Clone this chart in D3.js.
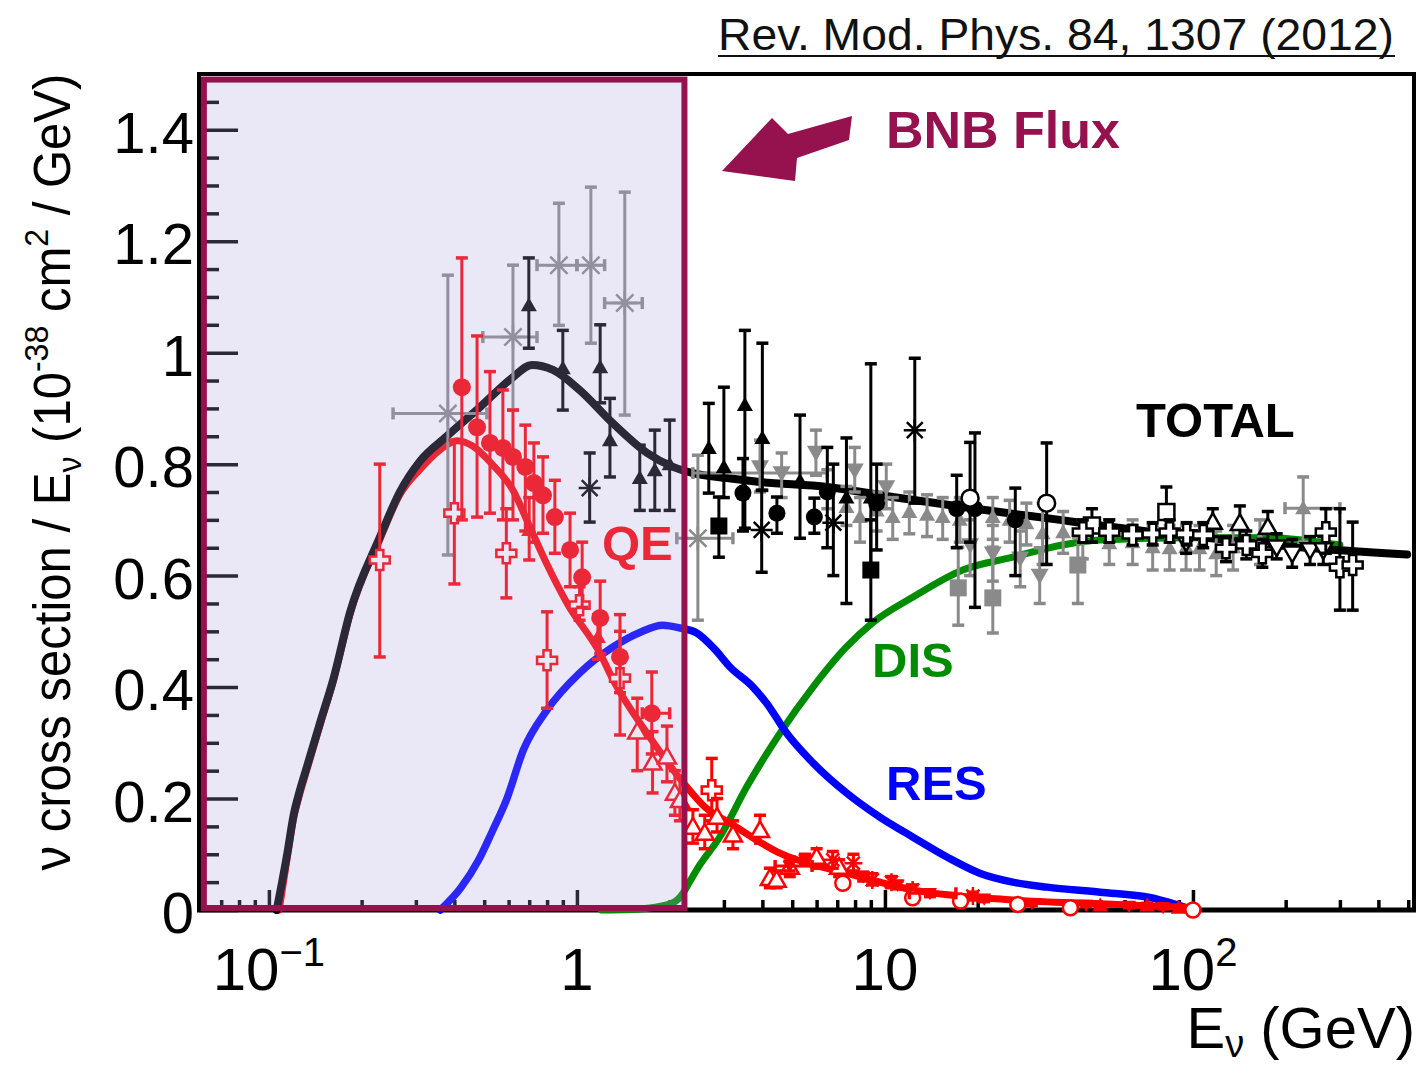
<!DOCTYPE html>
<html>
<head>
<meta charset="utf-8">
<script src="https://cdn.jsdelivr.net/npm/d3@7"></script>
<style>
body { margin: 0; background: #fff; }
#chart { width: 1421px; height: 1067px; }
text { font-family: "Liberation Sans", Arial, Helvetica, sans-serif; }
</style>
</head>
<body>
<div id="chart"></div>
<script>

/* MODEL CURVES (E in GeV, sigma/E in 1e-38 cm2/GeV) */
var totalE = [0.106, 0.1148, 0.1203, 0.1248, 0.1334, 0.1468, 0.1617, 0.1836, 0.2293, 0.2661, 0.309, 0.378, 0.484, 0.62, 0.714, 0.836, 1.02, 1.31, 1.69, 2.05, 2.38, 3.07, 3.93, 6.5, 10.6, 17.5, 23.6, 37, 50, 105, 222, 496];
var totalV = [0, 0.102, 0.17, 0.206, 0.26, 0.337, 0.413, 0.535, 0.669, 0.75, 0.805, 0.85, 0.902, 0.956, 0.978, 0.969, 0.933, 0.873, 0.82, 0.795, 0.784, 0.775, 0.768, 0.759, 0.741, 0.724, 0.714, 0.70, 0.69, 0.669, 0.651, 0.638];

var qeE = [0.108, 0.1148, 0.1203, 0.1248, 0.1334, 0.1468, 0.1617, 0.1836, 0.2293, 0.2661, 0.309, 0.36, 0.408, 0.46, 0.53, 0.62, 0.70, 0.80, 0.93, 1.19, 1.31, 1.69, 2.24, 2.6, 3.14, 4.56, 7.5, 12.3, 26, 50, 100];
var qeV = [0, 0.095, 0.165, 0.2, 0.255, 0.333, 0.41, 0.532, 0.665, 0.745, 0.79, 0.826, 0.842, 0.832, 0.80, 0.753, 0.69, 0.62, 0.55, 0.46, 0.413, 0.317, 0.225, 0.185, 0.156, 0.102, 0.066, 0.036, 0.018, 0.011, 0.004];

var resE = [0.36, 0.42, 0.48, 0.53, 0.59, 0.67, 0.80, 1.02, 1.31, 1.6, 1.9, 2.16, 2.45, 2.8, 3.14, 3.73, 4.13, 4.8, 5.84, 7.5, 9.6, 12.3, 15.9, 20.3, 26, 33.6, 50, 73, 100];
var resV = [0, 0.04, 0.09, 0.14, 0.197, 0.287, 0.359, 0.425, 0.472, 0.498, 0.511, 0.506, 0.497, 0.468, 0.436, 0.40, 0.371, 0.317, 0.264, 0.21, 0.167, 0.131, 0.095, 0.066, 0.05, 0.041, 0.032, 0.022, 0];

var disE = [1.2, 1.5, 1.75, 2.05, 2.21, 2.27, 2.5, 2.91, 3.56, 4.56, 5.84, 7.5, 9.1, 12.3, 17.9, 26, 37.7, 50, 100, 175, 300];
var disV = [0, 0.001, 0.004, 0.013, 0.03, 0.041, 0.08, 0.131, 0.221, 0.317, 0.40, 0.472, 0.515, 0.561, 0.61, 0.633, 0.655, 0.664, 0.668, 0.668, 0.655];

/* MEASUREMENTS: [E, value, barLow, barHigh, (xLow, xHigh)] */
var redCircles = [
    [0.423, 0.938, 0.70, 1.17], [0.474, 0.866, 0.705, 1.03], [0.522, 0.838, 0.712, 0.966],
    [0.575, 0.829, 0.70, 0.933], [0.62, 0.813, 0.70, 0.897], [0.68, 0.795, 0.68, 0.87],
    [0.725, 0.766, 0.66, 0.838], [0.776, 0.744, 0.676, 0.813], [0.848, 0.705, 0.64, 0.771],
    [0.95, 0.646, 0.58, 0.712], [1.04, 0.597, 0.543, 0.66], [1.19, 0.524, 0.46, 0.59],
    [1.38, 0.454, 0.39, 0.53], [1.75, 0.353, 0.28, 0.427, 1.63, 2.0]
];
var redOpenCrosses = [
    [0.229, 0.628, 0.454, 0.80], [0.40, 0.712, 0.585, 0.843], [0.59, 0.64, 0.56, 0.72],
    [0.80, 0.448, 0.362, 0.535], [1.02, 0.547, 0.52, 0.58], [1.38, 0.416, 0.314, 0.50],
    [2.74, 0.215, 0.16, 0.272]
];
var redOpenTriangles = [
    [1.57, 0.32, 0.25, 0.38], [1.76, 0.264, 0.21, 0.32], [1.96, 0.275, 0.23, 0.33],
    [2.08, 0.21, 0.17, 0.25], [2.16, 0.197, 0.16, 0.24], [2.38, 0.149, 0.12, 0.18],
    [2.6, 0.138, 0.11, 0.17], [2.85, 0.167, 0.14, 0.20], [3.21, 0.135, 0.11, 0.16],
    [3.93, 0.143, 0.12, 0.17], [4.23, 0.057, 0.04, 0.075], [4.45, 0.054, 0.04, 0.07],
    [4.91, 0.077, 0.06, 0.095], [6.0, 0.095, 0.075, 0.11], [7.1, 0.077, 0.06, 0.09]
];
var redTriangles = [
    [0.70, 0.682, 0.628, 0.74], [1.17, 0.49, 0.45, 0.53], [50, 0.008, 0.003, 0.013],
    [71, 0.008, 0.004, 0.012], [90, 0.004, 0.001, 0.008]
];
var redStars = [
    [6.77, 0.09, 0.075, 0.105], [7.9, 0.084, 0.07, 0.10], [9.1, 0.054, 0.045, 0.065],
    [10.5, 0.05, 0.04, 0.06], [12.3, 0.036, 0.028, 0.045], [19.3, 0.025, 0.018, 0.032]
];
var redOpenCircles = [
    [7.3, 0.048, 0.04, 0.056], [12.3, 0.022, 0.016, 0.028], [17.6, 0.016, 0.01, 0.022],
    [27, 0.01, 0.005, 0.015], [40, 0.004, 0.001, 0.008], [100, 0.0, 0.0, 0.003]
];
var redDownTriangles = [
    [4.9, 0.079, 0.07, 0.088, 4.4, 5.8], [5.5, 0.09, 0.08, 0.10], [8.5, 0.06, 0.052, 0.068],
    [11, 0.045, 0.038, 0.052], [14, 0.03, 0.024, 0.036, 12, 17], [21, 0.02, 0.015, 0.025],
    [30, 0.012, 0.008, 0.016], [45, 0.009, 0.006, 0.012], [62, 0.007, 0.004, 0.01],
    [80, 0.005, 0.002, 0.008]
];

var blackTriangles = [
    [0.698, 1.085, 1.008, 1.17], [0.90, 0.972, 0.897, 1.04], [1.19, 0.974, 0.91, 1.05],
    [1.28, 0.843, 0.777, 0.918], [1.6, 0.775, 0.717, 0.834], [1.79, 0.789, 0.717, 0.861],
    [2.0, 0.80, 0.717, 0.879], [2.68, 0.829, 0.748, 0.909], [3.0, 0.795, 0.74, 0.938],
    [3.51, 0.906, 0.685, 1.04], [4.0, 0.847, 0.753, 1.017], [5.3, 0.77, 0.667, 0.888],
    [7.5, 0.74, 0.55, 0.847], [9.0, 0.74, 0.62, 0.98]
];
var blackStars = [[1.1, 0.757, 0.696, 0.82], [3.98, 0.682, 0.606, 0.753], [6.8, 0.695, 0.60, 0.80], [12.5, 0.861, 0.73, 0.99]];
var blackCircles = [
    [3.46, 0.748, 0.68, 0.81], [4.46, 0.712, 0.676, 0.741], [5.9, 0.705, 0.676, 0.739],
    [6.5, 0.75, 0.65, 0.83], [9.4, 0.73, 0.646, 0.80], [17.1, 0.72, 0.65, 0.78],
    [19.6, 0.72, 0.543, 0.856], [26.5, 0.70, 0.60, 0.757]
];
var blackSquares = [[2.89, 0.689, 0.633, 0.741], [9.0, 0.61, 0.52, 0.70]];
var blackOpenCircles = [[18.9, 0.739, 0.66, 0.839], [33.5, 0.73, 0.62, 0.838]];
var blackOpenSquares = [[47, 0.69, 0.66, 0.72], [82, 0.714, 0.68, 0.759]];
var blackOpenTriangles = [[116, 0.696, 0.67, 0.72], [142, 0.694, 0.665, 0.725], [175, 0.687, 0.66, 0.715]];
var blackOpenDownTriangles = [[95, 0.66, 0.64, 0.68], [187, 0.651, 0.63, 0.675], [210, 0.64, 0.615, 0.665], [240, 0.646, 0.62, 0.67], [265, 0.646, 0.62, 0.67]];
var blackOpenCrosses = [
    [43.9, 0.678, 0.66, 0.70], [53.5, 0.678, 0.66, 0.70], [63.7, 0.673, 0.655, 0.69],
    [74, 0.675, 0.655, 0.695], [84, 0.678, 0.66, 0.70], [95.4, 0.675, 0.655, 0.695],
    [108, 0.673, 0.65, 0.695], [128, 0.649, 0.625, 0.67], [149, 0.655, 0.63, 0.68],
    [168, 0.64, 0.615, 0.665], [270, 0.678, 0.64, 0.72], [300, 0.615, 0.538, 0.72],
    [330, 0.619, 0.538, 0.696]
];

var grayStars = [
    [0.381, 0.891, 0.637, 1.139, 0.253, 0.51], [0.62, 1.028, 0.897, 1.157, 0.495, 0.742],
    [0.874, 1.157, 1.049, 1.268, 0.742, 1.0], [1.11, 1.157, 1.017, 1.297, 1.0, 1.23],
    [1.43, 1.089, 0.888, 1.288, 1.23, 1.63], [2.47, 0.667, 0.52, 0.816, 2.11, 3.21]
];
var grayDownTriangles = [
    [3.93, 0.795, 0.75, 0.843], [4.62, 0.784, 0.74, 0.82, 2.38, 6.5], [5.97, 0.821, 0.78, 0.861],
    [7.98, 0.789, 0.75, 0.83], [10.1, 0.759, 0.72, 0.80], [18.9, 0.655, 0.60, 0.70],
    [22.4, 0.64, 0.59, 0.69], [27.5, 0.631, 0.58, 0.68], [31.8, 0.60, 0.55, 0.65]
];
var grayTriangles = [
    [6.5, 0.757, 0.72, 0.79], [7.5, 0.723, 0.69, 0.76], [8.3, 0.705, 0.66, 0.74],
    [9.4, 0.717, 0.68, 0.75], [10.6, 0.705, 0.665, 0.74], [12, 0.714, 0.675, 0.75],
    [13.7, 0.709, 0.67, 0.745], [15.4, 0.705, 0.665, 0.74], [17.5, 0.70, 0.66, 0.74],
    [22.4, 0.705, 0.665, 0.74], [25.4, 0.70, 0.66, 0.735], [28.8, 0.694, 0.655, 0.73],
    [32.5, 0.676, 0.62, 0.73], [37.9, 0.678, 0.64, 0.715], [43.9, 0.667, 0.63, 0.70],
    [53.5, 0.658, 0.62, 0.70], [63.7, 0.66, 0.62, 0.70], [74, 0.651, 0.61, 0.69],
    [84, 0.649, 0.61, 0.69], [95, 0.651, 0.61, 0.69], [105, 0.649, 0.61, 0.69],
    [119, 0.64, 0.60, 0.68], [135, 0.651, 0.61, 0.69], [165, 0.664, 0.62, 0.70],
    [228, 0.721, 0.66, 0.777, 199, 300]
];
var graySquares = [[17.3, 0.578, 0.511, 0.651], [22.4, 0.56, 0.497, 0.651], [42.3, 0.619, 0.55, 0.669]];

/* AXIS TICKS */
var xMajorTicks = [0.1, 1, 10, 100];
var xMinorTicks = [0.07, 0.08, 0.09, 0.2, 0.3, 0.4, 0.5, 0.6, 0.7, 0.8, 0.9, 2, 3, 4, 5, 6, 7, 8, 9,
    20, 30, 40, 50, 60, 70, 80, 90, 200, 300, 400, 500];
var yMajorTicks = [0, 0.2, 0.4, 0.6, 0.8, 1, 1.2, 1.4];
var yMinorTicks = [0.05, 0.1, 0.15, 0.25, 0.3, 0.35, 0.45, 0.5, 0.55, 0.65, 0.7, 0.75, 0.85, 0.9, 0.95,
    1.05, 1.1, 1.15, 1.25, 1.3, 1.35, 1.45];
var yTickLabels = ["0", "0.2", "0.4", "0.6", "0.8", "1", "1.2", "1.4"];

/* COLOURS */
var RED = "#ff0000", BLUE = "#0000ff", GREEN = "#008c00", GRAY = "#8a8a8a", MAROON = "#95124f";

/* SVG AND SCALES */
var width = 1421, height = 1067;
var svg = d3.select("#chart").append("svg")
    .attr("width", width)
    .attr("height", height);

var x = d3.scaleLog().domain([0.0593, 522]).range([199, 1414]);
var y = d3.scaleLinear().domain([0, 1.5]).range([910, 74]);

/* TICKS (drawn inward like ROOT) */
function tickGroup(axis, tx, ty) {
    var g = svg.append("g").attr("transform", "translate(" + tx + "," + ty + ")").call(axis);
    g.select(".domain").remove();
    g.selectAll("line").attr("stroke", "#000").attr("stroke-width", 3.5);
    return g;
}
tickGroup(d3.axisTop(x).tickValues(xMajorTicks).tickSize(20).tickFormat(""), 0, 910);
tickGroup(d3.axisTop(x).tickValues(xMinorTicks).tickSize(10).tickFormat(""), 0, 910);
tickGroup(d3.axisRight(y).tickValues(yMajorTicks).tickSize(39).tickFormat(""), 199, 0);
tickGroup(d3.axisRight(y).tickValues(yMinorTicks).tickSize(20).tickFormat(""), 199, 0);

/* FRAME */
svg.append("rect")
    .attr("x", 199).attr("y", 74)
    .attr("width", 1414 - 199).attr("height", 910 - 74)
    .attr("fill", "none").attr("stroke", "#000").attr("stroke-width", 4);
svg.append("line")
    .attr("x1", 197).attr("x2", 1416).attr("y1", 910).attr("y2", 910)
    .attr("stroke", "#000").attr("stroke-width", 5);

/* CURVES */
function drawCurve(es, vs, color, w) {
    var pts = es.map(function(e, i) { return [x(e), y(vs[i])]; });
    svg.append("path")
        .attr("d", d3.line().curve(d3.curveMonotoneX)(pts))
        .attr("fill", "none")
        .attr("stroke", color)
        .attr("stroke-width", w)
        .attr("stroke-linejoin", "round")
        .attr("stroke-linecap", "round");
}
drawCurve(disE, disV, GREEN, 7);
drawCurve(resE, resV, BLUE, 7.5);
drawCurve(qeE, qeV, RED, 7);
drawCurve(totalE, totalV, "#000", 8);

/* MARKERS */
function markerPath(type, s) {
    if (type === "triUp") return "M0," + (-s) + "L" + s + "," + (0.75 * s) + "L" + (-s) + "," + (0.75 * s) + "Z";
    if (type === "triDown") return "M0," + s + "L" + s + "," + (-0.75 * s) + "L" + (-s) + "," + (-0.75 * s) + "Z";
    if (type === "square") return "M" + (-s) + "," + (-s) + "H" + s + "V" + s + "H" + (-s) + "Z";
    if (type === "cross") {
        var a = s * 0.36;
        return "M" + (-a) + "," + (-s) + "H" + a + "V" + (-a) + "H" + s + "V" + a + "H" + a + "V" + s +
            "H" + (-a) + "V" + a + "H" + (-s) + "V" + (-a) + "H" + (-a) + "Z";
    }
    if (type === "star") {
        var d = s * 0.72;
        return "M" + (-s) + ",0H" + s + "M0," + (-s) + "V" + s +
            "M" + (-d) + "," + (-d) + "L" + d + "," + d + "M" + (-d) + "," + d + "L" + d + "," + (-d);
    }
    return d3.symbol().type(d3.symbolCircle).size(Math.PI * s * s)();
}

function drawSet(rows, color, type, size, open) {
    var g = svg.append("g");
    rows.forEach(function(r) {
        var cx = x(r[0]), cy = y(r[1]);
        g.append("line")
            .attr("x1", cx).attr("x2", cx).attr("y1", y(r[2])).attr("y2", y(r[3]))
            .attr("stroke", color).attr("stroke-width", 3);
        [r[2], r[3]].forEach(function(v) {
            g.append("line")
                .attr("x1", cx - 6).attr("x2", cx + 6).attr("y1", y(v)).attr("y2", y(v))
                .attr("stroke", color).attr("stroke-width", 3.5);
        });
        if (r.length > 4) {
            g.append("line")
                .attr("x1", x(r[4])).attr("x2", x(r[5])).attr("y1", cy).attr("y2", cy)
                .attr("stroke", color).attr("stroke-width", 3);
            [r[4], r[5]].forEach(function(e) {
                g.append("line")
                    .attr("x1", x(e)).attr("x2", x(e)).attr("y1", cy - 6).attr("y2", cy + 6)
                    .attr("stroke", color).attr("stroke-width", 3.5);
            });
        }
        var m = g.append("path")
            .attr("d", markerPath(type, size))
            .attr("transform", "translate(" + cx + "," + cy + ")");
        if (type === "star") {
            m.attr("fill", "none").attr("stroke", color).attr("stroke-width", 2.5);
        } else if (open) {
            m.attr("fill", "#fff").attr("stroke", color).attr("stroke-width", 2.5);
        } else {
            m.attr("fill", color);
        }
    });
}

drawSet(grayStars, GRAY, "star", 12, false);
drawSet(grayDownTriangles, GRAY, "triDown", 9, false);
drawSet(grayTriangles, GRAY, "triUp", 8, false);
drawSet(graySquares, GRAY, "square", 8.5, false);

drawSet(blackTriangles, "#000", "triUp", 8, false);
drawSet(blackStars, "#000", "star", 11, false);
drawSet(blackCircles, "#000", "circle", 8.5, false);
drawSet(blackSquares, "#000", "square", 8.5, false);
drawSet(blackOpenCircles, "#000", "circle", 8.5, true);
drawSet(blackOpenSquares, "#000", "square", 8, true);
drawSet(blackOpenTriangles, "#000", "triUp", 9, true);
drawSet(blackOpenDownTriangles, "#000", "triDown", 9, true);
drawSet(blackOpenCrosses, "#000", "cross", 10, true);

drawSet(redOpenCrosses, RED, "cross", 10, true);
drawSet(redOpenTriangles, RED, "triUp", 9, true);
drawSet(redTriangles, RED, "triUp", 8, false);
drawSet(redStars, RED, "star", 9, false);
drawSet(redOpenCircles, RED, "circle", 7.5, true);
drawSet(redDownTriangles, RED, "triDown", 7, false);
drawSet(redCircles, RED, "circle", 9, false);

/* CURVE LABELS */
function bold(t, px, py, color) {
    svg.append("text")
        .attr("x", px).attr("y", py)
        .attr("font-size", 49).attr("font-weight", "bold")
        .attr("fill", color).text(t);
}
bold("QE", 602, 560, RED);
bold("DIS", 872, 677, GREEN);
bold("RES", 886, 800, BLUE);
bold("TOTAL", 1136, 437, "#000");

/* BNB FLUX REGION (translucent overlay) */
var bnbE = [0.0615, 2.234];
var bnbV = [0.0036, 1.49];
svg.append("rect")
    .attr("x", x(bnbE[0])).attr("y", y(bnbV[1]))
    .attr("width", x(bnbE[1]) - x(bnbE[0]))
    .attr("height", y(bnbV[0]) - y(bnbV[1]))
    .attr("fill", "rgb(171,159,223)").attr("fill-opacity", 0.25)
    .attr("stroke", MAROON).attr("stroke-width", 6);

/* ARROW + BNB FLUX */
svg.append("path")
    .attr("d", "M852,116 L849,140 L797,158 L795,181 L722,171 L772,118 L788,134 Z")
    .attr("fill", MAROON);
svg.append("text")
    .attr("x", 886).attr("y", 148)
    .attr("font-size", 52).attr("font-weight", "bold")
    .attr("fill", MAROON).text("BNB Flux");

/* TICK LABELS */
svg.selectAll(".ylab")
    .data(yMajorTicks)
    .enter()
    .append("text")
        .attr("class", "ylab")
        .attr("x", 194)
        .attr("y", function(d) { return y(d); })
        .attr("dy", "0.4em")
        .attr("text-anchor", "end")
        .attr("font-size", 58)
        .text(function(d, i) { return yTickLabels[i]; });

var xLabelSpecs = [["10", "\u22121"], ["1", ""], ["10", ""], ["10", "2"]];
xMajorTicks.forEach(function(v, i) {
    var t = svg.append("text")
        .attr("x", x(v)).attr("y", 990)
        .attr("text-anchor", "middle")
        .attr("font-size", 60);
    t.append("tspan").text(xLabelSpecs[i][0]);
    if (xLabelSpecs[i][1]) {
        t.append("tspan").attr("dy", -24).attr("font-size", 40).text(xLabelSpecs[i][1]);
    }
});

/* AXIS TITLES */
var xt = svg.append("text")
    .attr("x", 1415).attr("y", 1048)
    .attr("text-anchor", "end")
    .attr("font-size", 58);
xt.append("tspan").text("E");
xt.append("tspan").attr("dy", 9).attr("font-size", 38).text("\u03bd");
xt.append("tspan").attr("dy", -9).text(" (GeV)");

var yt = svg.append("text")
    .attr("text-anchor", "middle")
    .attr("font-size", 52);
yt.append("tspan").text("\u03bd cross section / E");
yt.append("tspan").attr("dy", 11).attr("font-size", 34).text("\u03bd");
yt.append("tspan").attr("dy", -11).text(" (10");
yt.append("tspan").attr("dy", -22).attr("font-size", 34).text("-38");
yt.append("tspan").attr("dy", 22).text(" cm");
yt.append("tspan").attr("dy", -22).attr("font-size", 34).text("2");
yt.append("tspan").attr("dy", 22).text(" / GeV)");
var ytw = yt.node().getBBox().width;
yt.attr("transform", "translate(70,472) rotate(-90) scale(" + (797 / ytw) + ",1)");

/* REFERENCE */
var ref = svg.append("text")
    .attr("x", 718).attr("y", 50)
    .attr("font-family", "Lato, 'Open Sans', sans-serif")
    .attr("font-size", 44)
    .attr("fill", "#111")
    .text("Rev. Mod. Phys. 84, 1307 (2012)");
ref.attr("textLength", 676).attr("lengthAdjust", "spacingAndGlyphs");
svg.append("line")
    .attr("x1", 718).attr("x2", 1395).attr("y1", 56).attr("y2", 56)
    .attr("stroke", "#111").attr("stroke-width", 2);

</script>
</body>
</html>
